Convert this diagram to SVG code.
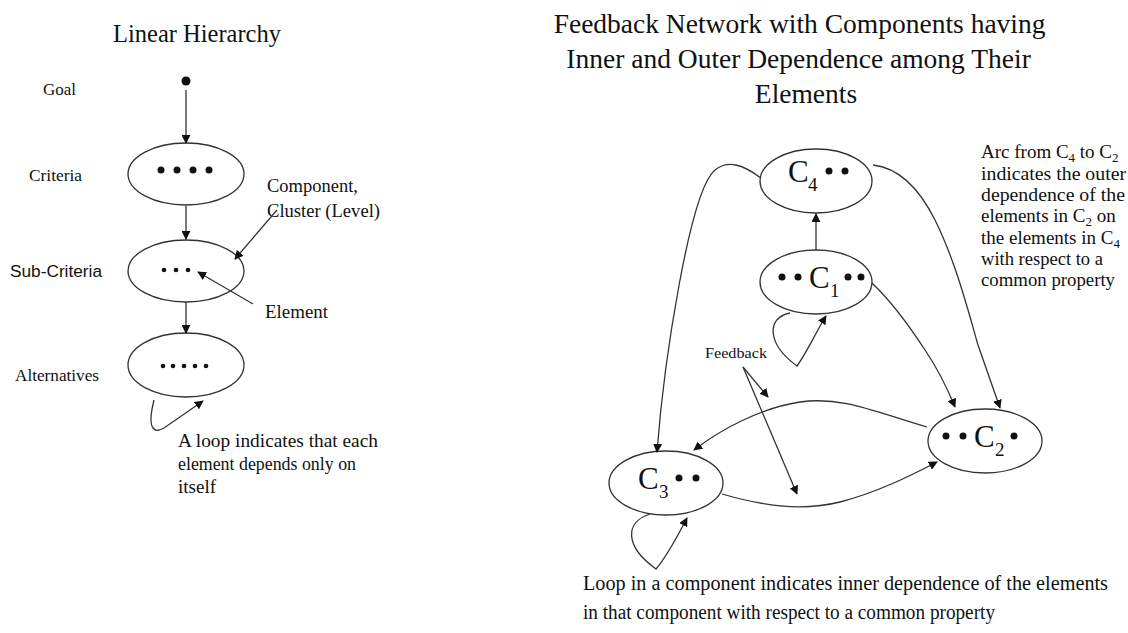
<svg xmlns="http://www.w3.org/2000/svg" width="1128" height="633" viewBox="0 0 1128 633">
  <defs>
    <marker id="arr" viewBox="0 0 10 10" refX="9" refY="5" markerWidth="9" markerHeight="9" markerUnits="userSpaceOnUse" orient="auto">
      <path d="M0,0 L10,5 L0,10 z" fill="#111"/>
    </marker>
    <style>
      .t { font-family: "Liberation Serif", "Times New Roman", serif; fill: #111; }
      .s { font-family: "Liberation Sans", Arial, sans-serif; fill: #111; }
      .node { fill: #fff; stroke: #333; stroke-width: 1.3; }
      .edge { fill: none; stroke: #333; stroke-width: 1.3; marker-end: url(#arr); }
      .dot { fill: #111; }
    </style>
  </defs>
  <rect width="1128" height="633" fill="#fff"/>

  <!-- Left: linear hierarchy -->
  <text class="t" x="197" y="42" font-size="24.5" text-anchor="middle">Linear Hierarchy</text>
  <text class="t" x="43" y="95" font-size="16" textLength="33" lengthAdjust="spacingAndGlyphs">Goal</text>
  <text class="t" x="29" y="181" font-size="16" textLength="53" lengthAdjust="spacingAndGlyphs">Criteria</text>
  <text class="s" x="10" y="277" font-size="16" textLength="92" lengthAdjust="spacingAndGlyphs">Sub-Criteria</text>
  <text class="t" x="15" y="381" font-size="16" textLength="84" lengthAdjust="spacingAndGlyphs">Alternatives</text>

  <g id="goal">
    <circle class="dot" cx="186" cy="81" r="4.5"/>
  </g>
  <g id="criteria">
    <ellipse class="node" cx="186" cy="174" rx="58" ry="31"/>
    <circle class="dot" cx="161" cy="170" r="3.5"/>
    <circle class="dot" cx="177" cy="170" r="3.5"/>
    <circle class="dot" cx="193" cy="170" r="3.5"/>
    <circle class="dot" cx="209" cy="170" r="3.5"/>
  </g>
  <g id="subcriteria">
    <ellipse class="node" cx="186" cy="271" rx="58" ry="31"/>
    <circle class="dot" cx="164" cy="270" r="2.3"/>
    <circle class="dot" cx="176" cy="270" r="2.3"/>
    <circle class="dot" cx="188" cy="270" r="2.3"/>
  </g>
  <g id="alternatives">
    <ellipse class="node" cx="186" cy="365" rx="58" ry="32"/>
    <circle class="dot" cx="163" cy="366" r="2.3"/>
    <circle class="dot" cx="173" cy="366" r="2.3"/>
    <circle class="dot" cx="184" cy="366" r="2.3"/>
    <circle class="dot" cx="195" cy="366" r="2.3"/>
    <circle class="dot" cx="206" cy="366" r="2.3"/>
  </g>

  <text class="t" x="267" y="192" font-size="18.5" textLength="91" lengthAdjust="spacingAndGlyphs">Component,</text>
  <text class="t" x="267" y="217" font-size="18.5" textLength="113" lengthAdjust="spacingAndGlyphs">Cluster (Level)</text>
  <text class="t" x="265" y="318" font-size="19" textLength="63" lengthAdjust="spacingAndGlyphs">Element</text>
  <text class="t" font-size="19">
    <tspan x="178" y="447" textLength="200" lengthAdjust="spacingAndGlyphs">A loop indicates that each</tspan>
    <tspan x="178" y="470" textLength="178" lengthAdjust="spacingAndGlyphs">element depends only on</tspan>
    <tspan x="178" y="493">itself</tspan>
  </text>

  <g id="connectors-left">
    <path class="edge" d="M186,90 L186,143"/>
    <path class="edge" d="M186,206 L186,239"/>
    <path class="edge" d="M186,302 L186,333"/>
    <path class="edge" d="M277,210 L235,259"/>
    <path class="edge" d="M253,304 L198,272"/>
    <path class="edge" d="M154,400 C151,412 150,424 153,428 C156,432 160,430 164,428 L203,401"/>
  </g>

  <!-- Right: feedback network -->
  <text class="t" font-size="27.5" text-anchor="middle">
    <tspan x="803" y="33">Feedback Network with Components having</tspan>
    <tspan x="802" y="68">Inner and Outer Dependence among Their</tspan>
    <tspan x="806" y="103">Elements</tspan>
  </text>

  <g id="c4">
    <ellipse class="node" cx="816" cy="181" rx="56" ry="32"/>
    <text class="t" x="788" y="182" font-size="31">C</text>
    <text class="t" x="808" y="191" font-size="19">4</text>
    <circle class="dot" cx="829" cy="171" r="3.5"/>
    <circle class="dot" cx="845" cy="171" r="3.5"/>
  </g>
  <g id="c1">
    <ellipse class="node" cx="816" cy="282" rx="56" ry="32"/>
    <circle class="dot" cx="782" cy="277" r="3.5"/>
    <circle class="dot" cx="798" cy="277" r="3.5"/>
    <text class="t" x="809" y="288" font-size="31">C</text>
    <text class="t" x="830" y="297" font-size="19">1</text>
    <circle class="dot" cx="848" cy="277" r="3.5"/>
    <circle class="dot" cx="861" cy="277" r="3.5"/>
  </g>
  <g id="c2">
    <ellipse class="node" cx="985" cy="441" rx="57" ry="32"/>
    <circle class="dot" cx="946" cy="436" r="3.5"/>
    <circle class="dot" cx="963" cy="436" r="3.5"/>
    <text class="t" x="974" y="447" font-size="31">C</text>
    <text class="t" x="995" y="456" font-size="19">2</text>
    <circle class="dot" cx="1014" cy="436" r="3.5"/>
  </g>
  <g id="c3">
    <ellipse class="node" cx="666" cy="483" rx="57" ry="32"/>
    <text class="t" x="638" y="489" font-size="31">C</text>
    <text class="t" x="659" y="498" font-size="19">3</text>
    <circle class="dot" cx="679" cy="478" r="3.5"/>
    <circle class="dot" cx="696" cy="478" r="3.5"/>
  </g>

  <text class="t" x="705" y="358" font-size="14" textLength="62" lengthAdjust="spacingAndGlyphs">Feedback</text>

  <text class="t" font-size="19">
    <tspan x="981" y="158">Arc from C<tspan font-size="13" dy="4">4</tspan><tspan dy="-4"> to C</tspan><tspan font-size="13" dy="4">2</tspan></tspan>
    <tspan x="981" y="180" textLength="145" lengthAdjust="spacingAndGlyphs">indicates the outer</tspan>
    <tspan x="981" y="201" textLength="144" lengthAdjust="spacingAndGlyphs">dependence of the</tspan>
    <tspan x="981" y="222">elements in C<tspan font-size="13" dy="4">2</tspan><tspan dy="-4"> on</tspan></tspan>
    <tspan x="981" y="244">the elements in C<tspan font-size="13" dy="4">4</tspan></tspan>
    <tspan x="981" y="265" textLength="122" lengthAdjust="spacingAndGlyphs">with respect to a</tspan>
    <tspan x="981" y="286" textLength="134" lengthAdjust="spacingAndGlyphs">common property</tspan>
  </text>

  <text class="t" font-size="20.5">
    <tspan x="583" y="590" textLength="525" lengthAdjust="spacingAndGlyphs">Loop in a component indicates inner dependence of the elements</tspan>
    <tspan x="583" y="619" textLength="412" lengthAdjust="spacingAndGlyphs">in that component with respect to a common property</tspan>
  </text>

  <g id="connectors-right">
    <!-- C1 to C4 -->
    <path class="edge" d="M816,250 L816,214"/>
    <!-- C4 to C3 -->
    <path class="edge" d="M761,178 C742,164 728,160 715,170 C690,190 664,360 657,452"/>
    <!-- C4 to C2 -->
    <path class="edge" d="M873,165 C900,168 920,190 935,220 C955,260 968,310 978,345 L1000,408"/>
    <!-- C1 to C2 -->
    <path class="edge" d="M872,283 C895,305 912,330 925,350 C940,372 948,390 955,407"/>
    <!-- C1 loop -->
    <path class="edge" d="M790,313 C765,318 768,345 797,366 C806,354 816,332 826,316"/>
    <!-- C2 to C3 -->
    <path class="edge" d="M927,427 C875,412 842,396 800,402 C760,408 720,430 694,450"/>
    <!-- C3 to C2 -->
    <path class="edge" d="M722,494 C760,505 800,512 840,502 C878,492 910,476 937,462"/>
    <!-- C3 loop -->
    <path class="edge" d="M650,514 C625,522 624,546 656,569 C668,555 678,535 687,518"/>
    <!-- Feedback pointers -->
    <path class="edge" d="M743,367 L768,397"/>
    <path class="edge" d="M743,367 L797,494"/>
  </g>
</svg>
